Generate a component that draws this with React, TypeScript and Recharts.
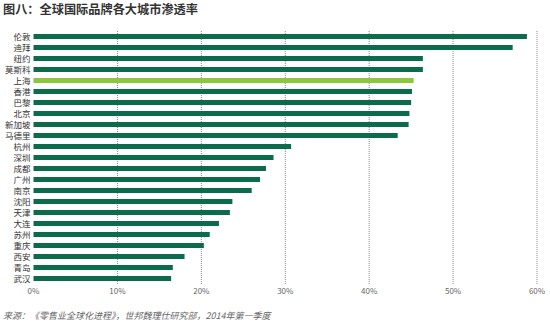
import React from "react";
import { BarChart, Bar, XAxis, YAxis, CartesianGrid, Cell } from "recharts";

const cities = ["伦敦","迪拜","纽约","莫斯科","上海","香港","巴黎","北京","新加坡","马德里","杭州","深圳","成都","广州","南京","沈阳","天津","大连","苏州","重庆","西安","青岛","武汉"];
const rates = [58.8,57.1,46.4,46.4,45.3,45.1,45.0,44.8,44.7,43.4,30.7,28.6,27.7,27.0,26.0,23.7,23.4,22.1,21.0,20.3,18.0,16.6,16.4];
const xTicks = [0,10,20,30,40,50,60];
const highlight = "上海";

const title = "图八：全球国际品牌各大城市渗透率";
const source = "来源：《零售业全球化进程》，世邦魏理仕研究部，2014年第一季度";

const data = cities.map((c, i) => ({ city: c, rate: rates[i] }));

const FONT = '"Noto Sans CJK SC", "Noto Sans", sans-serif';
const xMax = xTicks[xTicks.length - 1];

export default function App() {
  return (
    <div style={{ position: "absolute", left: 0, top: 0, width: 550, height: 323, background: "#fff", fontFamily: FONT }}>
      <div style={{ position: "absolute", left: 3, top: 1, fontSize: 12.2, fontWeight: 700, color: "#333", whiteSpace: "nowrap", lineHeight: "16px" }}>{title}</div>
      <BarChart width={550} height={323} data={data} layout="vertical"
        margin={{ top: 31, right: 13, left: 0, bottom: 19 }} barSize={5}>
        <CartesianGrid horizontal={false} stroke="#888" strokeDasharray="1 1"
          verticalCoordinatesGenerator={(props: any) => {
            const o = props?.offset || {};
            const left = o.left ?? 33.5;
            const w = o.width ?? 503.5;
            return xTicks.slice(1).map((t) => left + (w * t) / xMax);
          }} />
        <XAxis type="number" domain={[0, xMax]} ticks={xTicks} tickFormatter={(v) => v + "%"}
          axisLine={false} tickLine={false} tickSize={0} tickMargin={4} height={20}
          tick={{ fontSize: 8, fill: "#666", fontFamily: FONT }} interval={0} />
        <YAxis type="category" dataKey="city" width={33.5} axisLine={false} tickLine={false}
          tickSize={0} tickMargin={3} interval={0}
          tick={{ fontSize: 8.5, fill: "#333", fontFamily: FONT }} />
        <Bar dataKey="rate" isAnimationActive={false}>
          {data.map((d) => (
            <Cell key={d.city} fill={d.city === highlight ? "#8dc63f" : "#0b6b4a"} />
          ))}
        </Bar>
      </BarChart>
      <div style={{ position: "absolute", left: 3, top: 310, fontSize: 9, fontStyle: "italic", color: "#666", whiteSpace: "nowrap", lineHeight: "12px" }}>{source}</div>
    </div>
  );
}
